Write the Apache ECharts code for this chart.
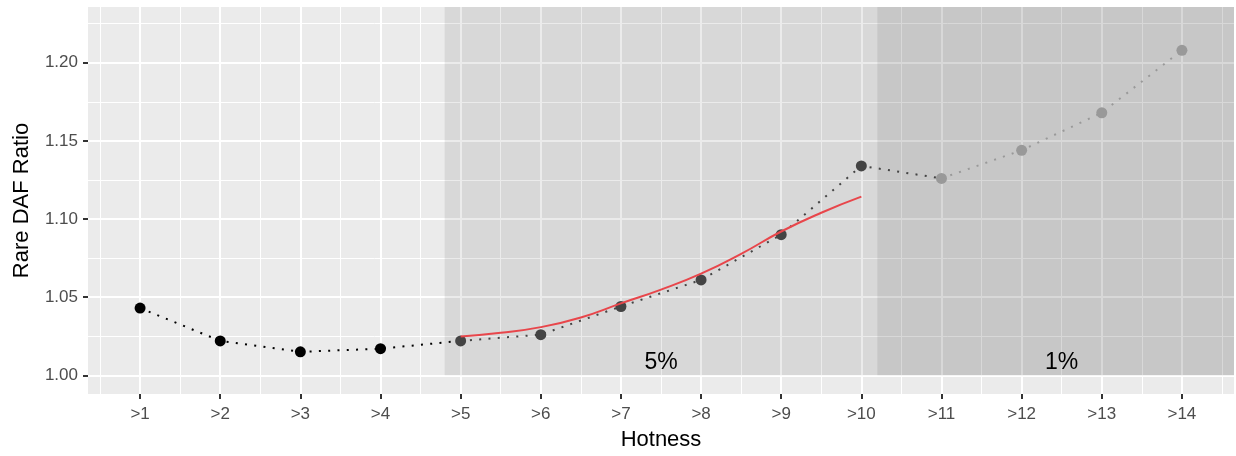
<!DOCTYPE html>
<html>
<head>
<meta charset="utf-8">
<script src="https://cdn.jsdelivr.net/npm/echarts@6/dist/echarts.min.js"></script>
<style>
html,body{margin:0;padding:0;background:#ffffff;}
#chart{width:1236px;height:456px;}
</style>
</head>
<body>
<div id="chart"></div>
<script>
// ---- data ----
const hotness = [1, 2, 3, 4, 5, 6, 7, 8, 9, 10, 11, 12, 13, 14];
const tickLabels = ['>1', '>2', '>3', '>4', '>5', '>6', '>7', '>8', '>9', '>10', '>11', '>12', '>13', '>14'];
const ratio = [1.043, 1.022, 1.015, 1.017, 1.022, 1.026, 1.044, 1.061, 1.090, 1.134, 1.126, 1.144, 1.168, 1.208];
const pointGroup = [0, 0, 0, 0, 1, 1, 1, 1, 1, 1, 2, 2, 2, 2];
const groupColors = ['#000000', '#444444', '#999999'];
const fitX = [5, 5.5, 6, 6.5, 7, 7.5, 8, 8.5, 9, 9.5, 10];
const fitY = [1.0248, 1.0272, 1.0308, 1.0370, 1.0460, 1.0548, 1.0650, 1.0777, 1.0920, 1.1040, 1.1143];
const yTicks = [1.00, 1.05, 1.10, 1.15, 1.20];
const yMinorTicks = [1.025, 1.075, 1.125, 1.175, 1.225];
const xMinorTicks = [0.5, 1.5, 2.5, 3.5, 4.5, 5.5, 6.5, 7.5, 8.5, 9.5, 10.5, 11.5, 12.5, 13.5, 14.5];
const shadeStart = [4.8, 10.2];
const shadeFloor = 1.00;
const shadeLabels = ['5%', '1%'];
const shadeLabelX = [7.5, 12.5];
const shadeLabelY = [1.01, 1.01];

// ---- axis extents ----
const X_MIN = 0.35, X_MAX = 14.65;
const Y_MIN = 0.988, Y_MAX = 1.2357;

const FONT = "'Liberation Sans', Arial, Helvetica, sans-serif";

const lineSeries = [];
const pointSeries = [];
groupColors.forEach((col, g) => {
  const idx = [];
  pointGroup.forEach((pg, i) => { if (pg === g) idx.push(i); });
  const lineIdx = idx.slice();
  const nextFirst = pointGroup.indexOf(g + 1);
  if (nextFirst >= 0) lineIdx.push(nextFirst);
  lineSeries.push({
    type: 'line',
    data: lineIdx.map(i => [hotness[i], ratio[i]]),
    symbol: 'none',
    lineStyle: { color: col, width: 2, type: [2, 7.3], cap: 'butt' },
    silent: true,
    z: 3
  });
  pointSeries.push({
    type: 'scatter',
    data: idx.map(i => [hotness[i], ratio[i]]),
    symbol: 'circle',
    symbolSize: 11,
    itemStyle: { color: col, opacity: 1 },
    silent: true,
    z: 5
  });
});

const shadeSeries = {
  type: 'line',
  data: [],
  silent: true,
  z: 1,
  markArea: {
    silent: true,
    itemStyle: { color: 'rgba(0,0,0,0.077)' },
    label: { show: false },
    data: shadeStart.map(s => [{ xAxis: s, yAxis: shadeFloor }, { xAxis: X_MAX, yAxis: Y_MAX }])
  }
};

const labelSeries = {
  type: 'scatter',
  data: shadeLabels.map((t, i) => [shadeLabelX[i], shadeLabelY[i], t]),
  symbolSize: 1,
  itemStyle: { color: 'rgba(0,0,0,0)' },
  silent: true,
  z: 6,
  label: {
    show: true,
    position: 'inside',
    offset: [0, 3],
    formatter: p => p.data[2],
    fontFamily: FONT,
    fontSize: 23,
    color: '#000000',
    opacity: 1
  }
};

const fitSeries = {
  type: 'line',
  data: fitX.map((x, i) => [x, fitY[i]]),
  smooth: true,
  symbol: 'none',
  lineStyle: { color: '#E8464B', width: 2 },
  silent: true,
  z: 6
};

const chart = echarts.init(document.getElementById('chart'), null, { renderer: 'canvas' });
chart.setOption({
  animation: false,
  backgroundColor: '#ffffff',
  grid: {
    left: 88, right: 2, top: 7, bottom: 55,
    show: true, backgroundColor: '#EBEBEB', borderWidth: 0,
    containLabel: false
  },
  xAxis: [
    {
      type: 'value', min: X_MIN, max: X_MAX,
      axisLine: { show: false },
      axisTick: { show: true, length: 5, customValues: hotness, lineStyle: { color: '#333333', width: 2 } },
      axisLabel: {
        customValues: hotness, margin: 12,
        formatter: v => tickLabels[hotness.indexOf(v)],
        fontFamily: FONT, fontSize: 17, color: '#4D4D4D'
      },
      splitLine: { show: true, lineStyle: { color: '#ffffff', width: 2 } },
      name: 'Hotness', nameLocation: 'middle', nameGap: 35,
      nameTextStyle: { fontFamily: FONT, fontSize: 22, color: '#000000' },
      z: 0
    },
    {
      type: 'value', min: X_MIN, max: X_MAX,
      axisLine: { show: false },
      axisTick: { show: false, customValues: xMinorTicks },
      axisLabel: { show: false, customValues: xMinorTicks },
      splitLine: { show: true, lineStyle: { color: '#ffffff', width: 1 } },
      z: 0
    }
  ],
  yAxis: [
    {
      type: 'value', min: Y_MIN, max: Y_MAX,
      axisLine: { show: false },
      axisTick: { show: true, length: 5, customValues: yTicks, lineStyle: { color: '#333333', width: 2 } },
      axisLabel: {
        customValues: yTicks, margin: 10,
        padding: [6, 0, 0, 0],
        formatter: v => v.toFixed(2),
        fontFamily: FONT, fontSize: 17, color: '#4D4D4D'
      },
      splitLine: { show: true, lineStyle: { color: '#ffffff', width: 2 } },
      name: 'Rare DAF Ratio', nameLocation: 'middle', nameGap: 55,
      nameTextStyle: { fontFamily: FONT, fontSize: 22, color: '#000000' },
      z: 0
    },
    {
      type: 'value', min: Y_MIN, max: Y_MAX,
      axisLine: { show: false },
      axisTick: { show: false, customValues: yMinorTicks },
      axisLabel: { show: false, customValues: yMinorTicks },
      splitLine: { show: true, lineStyle: { color: '#ffffff', width: 1 } },
      z: 0
    }
  ],
  series: [shadeSeries].concat(lineSeries, [fitSeries], pointSeries, [labelSeries])
});
</script>
</body>
</html>
